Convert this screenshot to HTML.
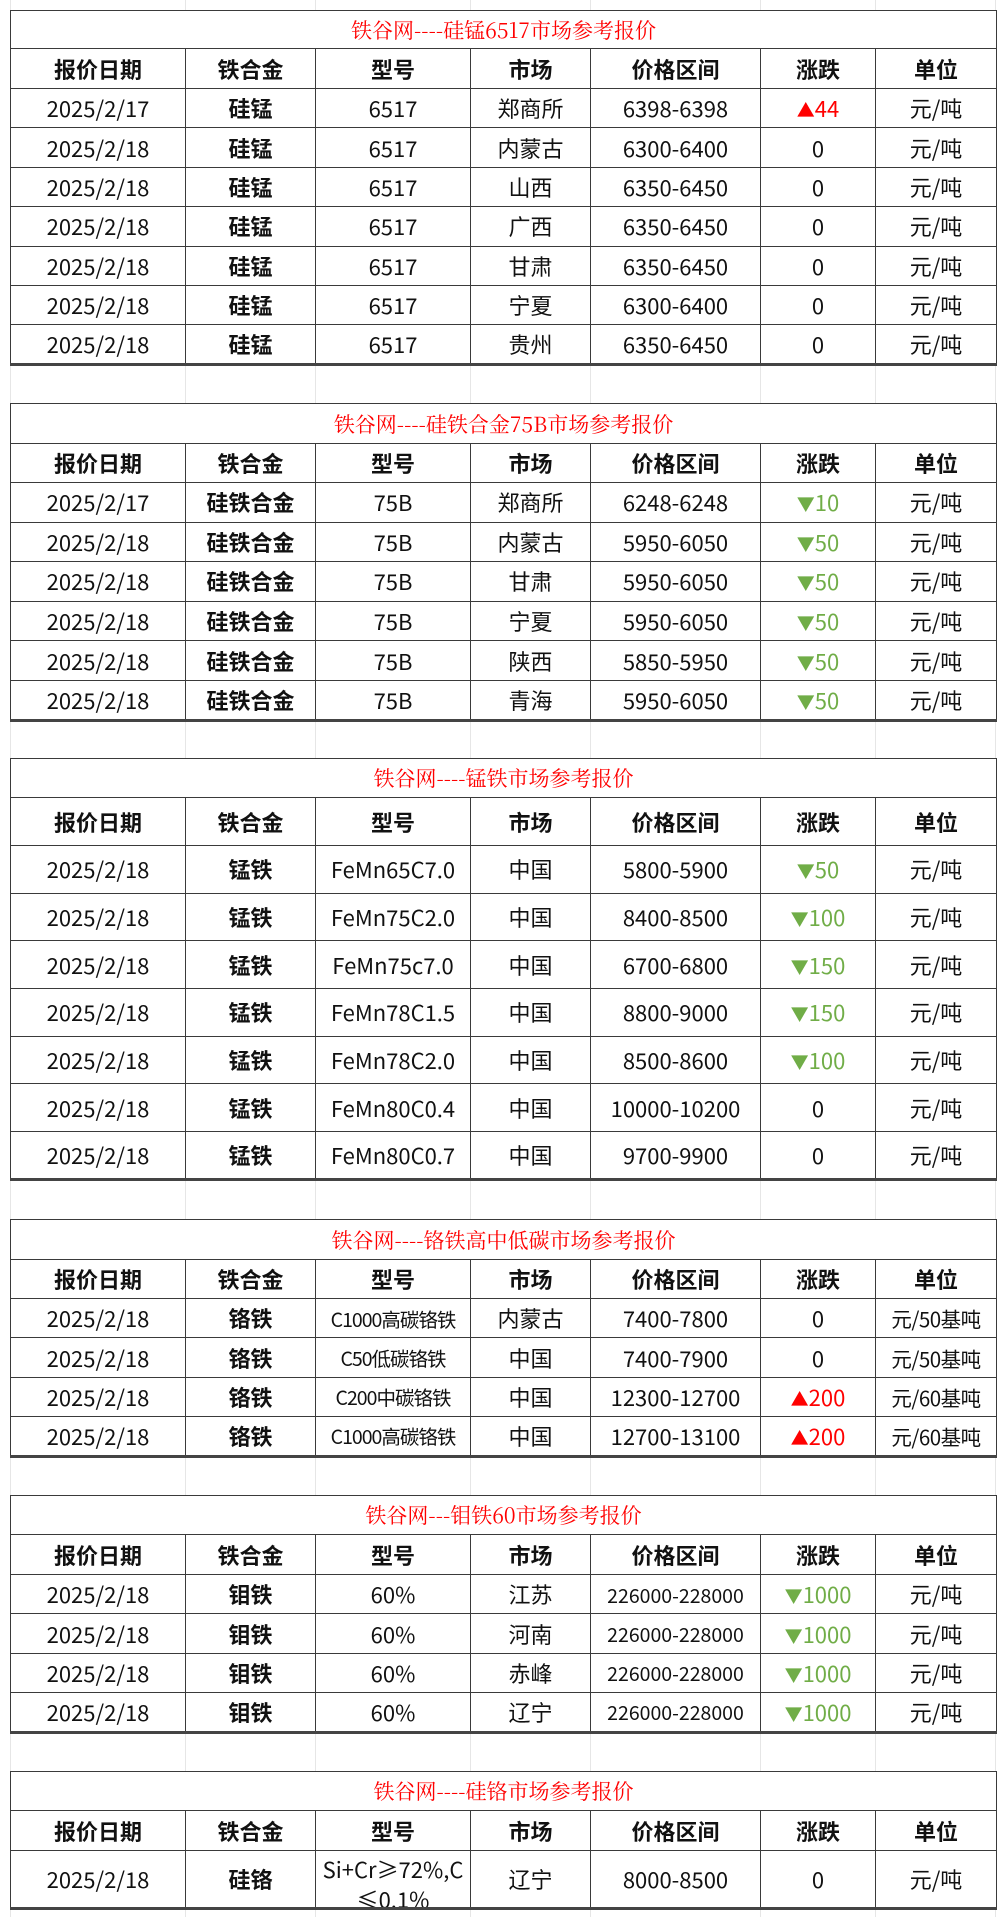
<!DOCTYPE html>
<html><head><meta charset="utf-8">
<style>
body{margin:0;width:1000px;height:1917px;background:#fff;position:relative;overflow:hidden;font-family:"Liberation Sans","Noto Sans CJK SC",sans-serif;color:#111}
.vl{position:absolute;top:0;height:1917px;width:1px;background:#e6e6e6}
table{position:absolute;left:10px;width:986px;border-collapse:collapse;table-layout:fixed;background:#fff}
td{border:1.5px solid #3a3a3a;text-align:center;padding:0;font-size:22px;white-space:nowrap;overflow:hidden;font-family:"Noto Sans CJK SC",sans-serif}
td.t{color:#f00;font-family:"Noto Serif CJK SC",serif;font-size:21px}
tr.h td{font-weight:bold}
td.b{font-weight:bold}
.r{color:#f00}.g{color:#70ad47}
.r span,.g span{font-size:18px}
table{border-bottom:3px solid #444}
</style></head><body>
<div class="vl" style="left:185px"></div><div class="vl" style="left:315px"></div><div class="vl" style="left:470px"></div><div class="vl" style="left:590px"></div><div class="vl" style="left:760px"></div><div class="vl" style="left:875px"></div><div class="vl" style="left:10px"></div><div class="vl" style="left:995px"></div>

<table style="top:10px">
<colgroup><col style="width:175px"><col style="width:130px"><col style="width:155px"><col style="width:120px"><col style="width:170px"><col style="width:115px"><col style="width:121px"></colgroup>
<tr style="height:38px"><td colspan="7" class="t">铁谷网----硅锰6517市场参考报价</td></tr>
<tr class="h" style="height:40px"><td>报价日期</td><td>铁合金</td><td>型号</td><td>市场</td><td>价格区间</td><td>涨跌</td><td>单位</td></tr>
<tr style="height:39.4px"><td>2025/2/17</td><td class="b">硅锰</td><td>6517</td><td>郑商所</td><td>6398-6398</td><td class="r"><span>▲</span>44</td><td>元/吨</td></tr>
<tr style="height:39.4px"><td>2025/2/18</td><td class="b">硅锰</td><td>6517</td><td>内蒙古</td><td>6300-6400</td><td>0</td><td>元/吨</td></tr>
<tr style="height:39.4px"><td>2025/2/18</td><td class="b">硅锰</td><td>6517</td><td>山西</td><td>6350-6450</td><td>0</td><td>元/吨</td></tr>
<tr style="height:39.4px"><td>2025/2/18</td><td class="b">硅锰</td><td>6517</td><td>广西</td><td>6350-6450</td><td>0</td><td>元/吨</td></tr>
<tr style="height:39.4px"><td>2025/2/18</td><td class="b">硅锰</td><td>6517</td><td>甘肃</td><td>6350-6450</td><td>0</td><td>元/吨</td></tr>
<tr style="height:39.4px"><td>2025/2/18</td><td class="b">硅锰</td><td>6517</td><td>宁夏</td><td>6300-6400</td><td>0</td><td>元/吨</td></tr>
<tr style="height:39.4px"><td>2025/2/18</td><td class="b">硅锰</td><td>6517</td><td>贵州</td><td>6350-6450</td><td>0</td><td>元/吨</td></tr>
</table>

<table style="top:403px">
<colgroup><col style="width:175px"><col style="width:130px"><col style="width:155px"><col style="width:120px"><col style="width:170px"><col style="width:115px"><col style="width:121px"></colgroup>
<tr style="height:40px"><td colspan="7" class="t">铁谷网----硅铁合金75B市场参考报价</td></tr>
<tr class="h" style="height:39px"><td>报价日期</td><td>铁合金</td><td>型号</td><td>市场</td><td>价格区间</td><td>涨跌</td><td>单位</td></tr>
<tr style="height:39.6px"><td>2025/2/17</td><td class="b">硅铁合金</td><td>75B</td><td>郑商所</td><td>6248-6248</td><td class="g"><span>▼</span>10</td><td>元/吨</td></tr>
<tr style="height:39.6px"><td>2025/2/18</td><td class="b">硅铁合金</td><td>75B</td><td>内蒙古</td><td>5950-6050</td><td class="g"><span>▼</span>50</td><td>元/吨</td></tr>
<tr style="height:39.6px"><td>2025/2/18</td><td class="b">硅铁合金</td><td>75B</td><td>甘肃</td><td>5950-6050</td><td class="g"><span>▼</span>50</td><td>元/吨</td></tr>
<tr style="height:39.6px"><td>2025/2/18</td><td class="b">硅铁合金</td><td>75B</td><td>宁夏</td><td>5950-6050</td><td class="g"><span>▼</span>50</td><td>元/吨</td></tr>
<tr style="height:39.6px"><td>2025/2/18</td><td class="b">硅铁合金</td><td>75B</td><td>陕西</td><td>5850-5950</td><td class="g"><span>▼</span>50</td><td>元/吨</td></tr>
<tr style="height:39.6px"><td>2025/2/18</td><td class="b">硅铁合金</td><td>75B</td><td>青海</td><td>5950-6050</td><td class="g"><span>▼</span>50</td><td>元/吨</td></tr>
</table>

<table style="top:758px">
<colgroup><col style="width:175px"><col style="width:130px"><col style="width:155px"><col style="width:120px"><col style="width:170px"><col style="width:115px"><col style="width:121px"></colgroup>
<tr style="height:39px"><td colspan="7" class="t">铁谷网----锰铁市场参考报价</td></tr>
<tr class="h" style="height:48px"><td>报价日期</td><td>铁合金</td><td>型号</td><td>市场</td><td>价格区间</td><td>涨跌</td><td>单位</td></tr>
<tr style="height:47.7px"><td>2025/2/18</td><td class="b">锰铁</td><td>FeMn65C7.0</td><td>中国</td><td>5800-5900</td><td class="g"><span>▼</span>50</td><td>元/吨</td></tr>
<tr style="height:47.7px"><td>2025/2/18</td><td class="b">锰铁</td><td>FeMn75C2.0</td><td>中国</td><td>8400-8500</td><td class="g"><span>▼</span>100</td><td>元/吨</td></tr>
<tr style="height:47.7px"><td>2025/2/18</td><td class="b">锰铁</td><td>FeMn75c7.0</td><td>中国</td><td>6700-6800</td><td class="g"><span>▼</span>150</td><td>元/吨</td></tr>
<tr style="height:47.7px"><td>2025/2/18</td><td class="b">锰铁</td><td>FeMn78C1.5</td><td>中国</td><td>8800-9000</td><td class="g"><span>▼</span>150</td><td>元/吨</td></tr>
<tr style="height:47.7px"><td>2025/2/18</td><td class="b">锰铁</td><td>FeMn78C2.0</td><td>中国</td><td>8500-8600</td><td class="g"><span>▼</span>100</td><td>元/吨</td></tr>
<tr style="height:47.7px"><td>2025/2/18</td><td class="b">锰铁</td><td>FeMn80C0.4</td><td>中国</td><td>10000-10200</td><td>0</td><td>元/吨</td></tr>
<tr style="height:47.7px"><td>2025/2/18</td><td class="b">锰铁</td><td>FeMn80C0.7</td><td>中国</td><td>9700-9900</td><td>0</td><td>元/吨</td></tr>
</table>

<table style="top:1219px">
<colgroup><col style="width:175px"><col style="width:130px"><col style="width:155px"><col style="width:120px"><col style="width:170px"><col style="width:115px"><col style="width:121px"></colgroup>
<tr style="height:40px"><td colspan="7" class="t">铁谷网----铬铁高中低碳市场参考报价</td></tr>
<tr class="h" style="height:39px"><td>报价日期</td><td>铁合金</td><td>型号</td><td>市场</td><td>价格区间</td><td>涨跌</td><td>单位</td></tr>
<tr style="height:39.4px"><td>2025/2/18</td><td class="b">铬铁</td><td style="font-size:19.5px;letter-spacing:-1px">C1000高碳铬铁</td><td>内蒙古</td><td>7400-7800</td><td>0</td><td style="font-size:20.5px;letter-spacing:-0.5px">元/50基吨</td></tr>
<tr style="height:39.4px"><td>2025/2/18</td><td class="b">铬铁</td><td style="font-size:19.5px;letter-spacing:-1px">C50低碳铬铁</td><td>中国</td><td>7400-7900</td><td>0</td><td style="font-size:20.5px;letter-spacing:-0.5px">元/50基吨</td></tr>
<tr style="height:39.4px"><td>2025/2/18</td><td class="b">铬铁</td><td style="font-size:19.5px;letter-spacing:-1px">C200中碳铬铁</td><td>中国</td><td>12300-12700</td><td class="r"><span>▲</span>200</td><td style="font-size:20.5px;letter-spacing:-0.5px">元/60基吨</td></tr>
<tr style="height:39.4px"><td>2025/2/18</td><td class="b">铬铁</td><td style="font-size:19.5px;letter-spacing:-1px">C1000高碳铬铁</td><td>中国</td><td>12700-13100</td><td class="r"><span>▲</span>200</td><td style="font-size:20.5px;letter-spacing:-0.5px">元/60基吨</td></tr>
</table>

<table style="top:1495px">
<colgroup><col style="width:175px"><col style="width:130px"><col style="width:155px"><col style="width:120px"><col style="width:170px"><col style="width:115px"><col style="width:121px"></colgroup>
<tr style="height:39px"><td colspan="7" class="t">铁谷网---钼铁60市场参考报价</td></tr>
<tr class="h" style="height:40px"><td>报价日期</td><td>铁合金</td><td>型号</td><td>市场</td><td>价格区间</td><td>涨跌</td><td>单位</td></tr>
<tr style="height:39.4px"><td>2025/2/18</td><td class="b">钼铁</td><td>60%</td><td>江苏</td><td style="font-size:19.5px">226000-228000</td><td class="g"><span>▼</span>1000</td><td>元/吨</td></tr>
<tr style="height:39.4px"><td>2025/2/18</td><td class="b">钼铁</td><td>60%</td><td>河南</td><td style="font-size:19.5px">226000-228000</td><td class="g"><span>▼</span>1000</td><td>元/吨</td></tr>
<tr style="height:39.4px"><td>2025/2/18</td><td class="b">钼铁</td><td>60%</td><td>赤峰</td><td style="font-size:19.5px">226000-228000</td><td class="g"><span>▼</span>1000</td><td>元/吨</td></tr>
<tr style="height:39.4px"><td>2025/2/18</td><td class="b">钼铁</td><td>60%</td><td>辽宁</td><td style="font-size:19.5px">226000-228000</td><td class="g"><span>▼</span>1000</td><td>元/吨</td></tr>
</table>

<table style="top:1771px">
<colgroup><col style="width:175px"><col style="width:130px"><col style="width:155px"><col style="width:120px"><col style="width:170px"><col style="width:115px"><col style="width:121px"></colgroup>
<tr style="height:39px"><td colspan="7" class="t">铁谷网----硅铬市场参考报价</td></tr>
<tr class="h" style="height:40px"><td>报价日期</td><td>铁合金</td><td>型号</td><td>市场</td><td>价格区间</td><td>涨跌</td><td>单位</td></tr>
<tr style="height:57px"><td>2025/2/18</td><td class="b">硅铬</td><td style="white-space:normal;vertical-align:top"><div style="height:56px;overflow:hidden;line-height:30px;padding-top:3px;box-sizing:border-box">Si+Cr≥72%,C<br>≤0.1%</div></td><td>辽宁</td><td>8000-8500</td><td>0</td><td>元/吨</td></tr>
</table>
</body></html>
